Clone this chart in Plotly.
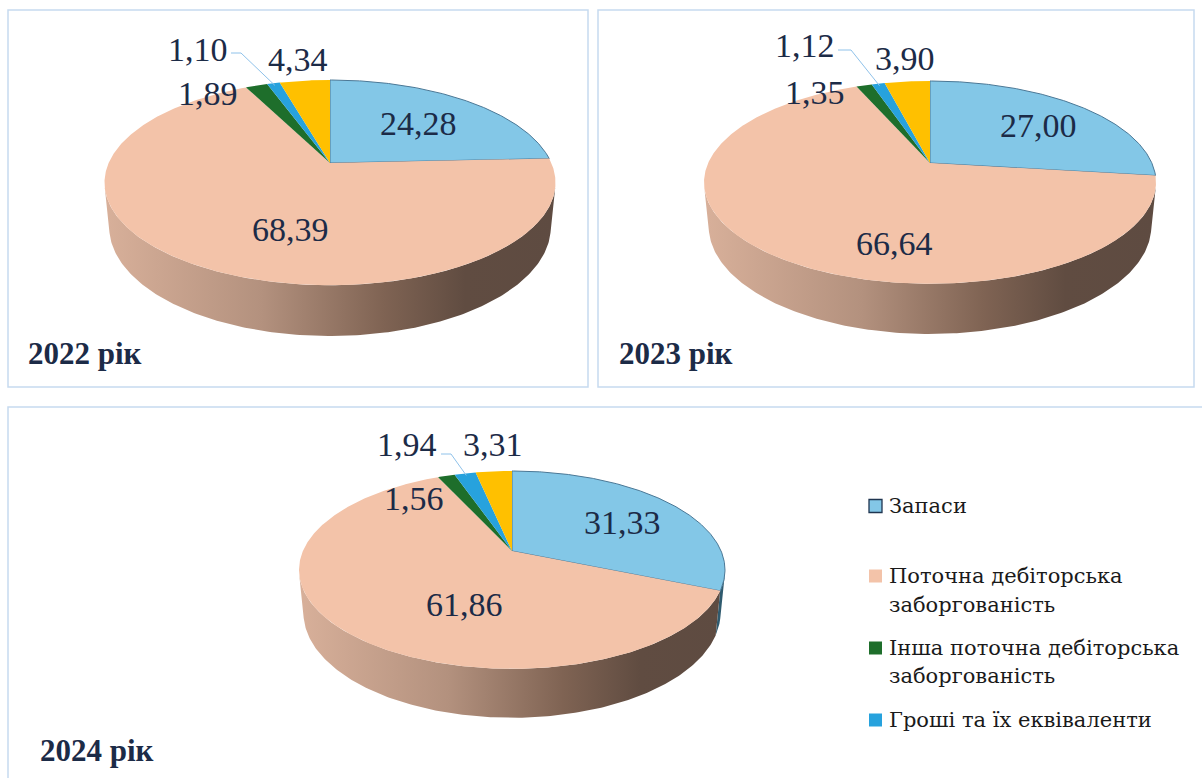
import numpy as np
import plotly.graph_objects as go

# ---------------- data ----------------
categories = ["Запаси", "Поточна дебіторська заборгованість",
              "Інша поточна дебіторська заборгованість",
              "Гроші та їх еквіваленти", "Інші оборотні активи"]
years = ["2022 рік", "2023 рік", "2024 рік"]
values_2022 = [24.28, 68.39, 1.89, 1.10, 4.34]
values_2023 = [27.00, 66.64, 1.35, 1.12, 3.90]
values_2024 = [31.33, 61.86, 1.56, 1.94, 3.31]
legend_lines = [["Запаси"],
                ["Поточна дебіторська", "заборгованість"],
                ["Інша поточна дебіторська", "заборгованість"],
                ["Гроші та їх еквіваленти"]]

# ---------------- style / layout ----------------
slice_colors = ["#83c7e7", "#f3c3a9", "#1e6e2b", "#27a2dd", "#ffc000"]
text_color = "#1c2b47"
border_color = "#c6daf0"
SERIF = "Liberation Serif"
LEG_FONT = "DejaVu Serif"
W, Hh = 1202, 778

# pie placement (pixel layout)
pies = [dict(cx=330, vy=163, hw=225.5, top=83),
        dict(cx=930, vy=163, hw=226, top=82),
        dict(cx=512, vy=551, hw=213, top=80)]
label_pos = [
    [(418, 123), (290, 229), (208, 93), (198, 49), (298, 59)],
    [(1038, 125), (894, 243), (815, 92), (805, 45), (905, 58)],
    [(622, 522), (464, 604), (414, 498), (407, 444), (493, 444)],
]
leader_start = [[(231, 53), (241, 53)], [(838, 50), (851, 50)], [(441, 454), (451, 454)]]
title_pos = [(26, 353), (617, 353), (38, 750)]
panels = [(8, 10, 588, 387), (598, 10, 1194, 387), (8, 407, 1215, 795)]

# perspective model of a tilted pie
E = np.radians(26.0)
D = 4.7
DEPTH = 0.22
S, C = np.sin(E), np.cos(E)


def project(a_deg, y3, r=1.0):
    a = np.radians(a_deg)
    X = r * np.sin(a)
    Z = -r * np.cos(a)
    depth = D - y3 * S - Z * C
    return X / depth, (y3 * C - Z * S) / depth


fig = go.Figure()
annotations = []
shapes = []

all_values = [values_2022, values_2023, values_2024]
grid = np.linspace(0, 360, 721)
rim_sx, _ = project(grid, 0.0)
max_sx = np.max(rim_sx)
a_vis = np.degrees(np.arccos(-1.0 / (D * C)))

wall_traces = []
top_traces = []
for p, vals, lpos, lstart, ttl, tpos in zip(pies, all_values, label_pos,
                                              leader_start, years, title_pos):
    kx = p["hw"] / max_sx
    ky = p["top"] / project(0.0, 0.0)[1]

    def to_px(sx, sy):
        return p["cx"] + kx * np.asarray(sx), p["vy"] - ky * np.asarray(sy)

    total = sum(vals)
    bounds = np.concatenate([[0], np.cumsum(vals)]) / total * 360.0
    left_px = p["cx"] - p["hw"]
    right_px = p["cx"] + p["hw"]

    for i, v in enumerate(vals):
        a1, a2 = bounds[i], bounds[i + 1]
        # side wall (front visible part)
        b1, b2 = max(a1, a_vis), min(a2, 360 - a_vis)
        if b2 > b1:
            aa = np.linspace(b1, b2, 200)
            tx, ty = to_px(*project(aa, 0.0))
            bx, by = to_px(*project(aa[::-1], -DEPTH))
            xs = np.concatenate([tx, bx, tx[:1]])
            ys = np.concatenate([ty, by, ty[:1]])
            if i == 1:
                fg = dict(type="horizontal", start=left_px, stop=right_px,
                          colorscale=[[0, "#d8b09a"], [0.35, "#b3917e"],
                                      [0.62, "#7f6353"], [0.8, "#604c41"],
                                      [1, "#5e4b41"]])
            else:
                fg = dict(type="horizontal", start=left_px, stop=right_px,
                          colorscale=[[0, "#4a87a3"], [1, "#2f5a6e"]])
            wall_traces.append(go.Scatter(x=xs, y=ys, mode="lines", fill="toself",
                                          fillgradient=fg, line=dict(width=0),
                                          hoverinfo="skip", showlegend=False))
        # top face
        aa = np.linspace(a1, a2, max(8, int((a2 - a1) * 2)))
        rx, ry = to_px(*project(aa, 0.0))
        xs = np.concatenate([[p["cx"]], rx, [p["cx"]]])
        ys = np.concatenate([[p["vy"]], ry, [p["vy"]]])
        line = dict(width=1, color="#4b7896") if i == 0 else dict(width=0)
        top_traces.append(go.Scatter(x=xs, y=ys, mode="lines", fill="toself",
                                     fillcolor=slice_colors[i], line=line,
                                     name=categories[i], hoverinfo="name",
                                     showlegend=False))
        # value label
        annotations.append(dict(x=lpos[i][0], y=lpos[i][1], xref="x", yref="y",
                                text=f"{v:.2f}".replace(".", ","), showarrow=False,
                                font=dict(family=SERIF, size=34, color=text_color),
                                xanchor="center", yanchor="middle"))
    # leader line to the "Гроші" slice
    mid = (bounds[3] + bounds[4]) / 2
    ex, ey = to_px(*project(mid, 0.0, 0.97))
    lx = [pt[0] for pt in lstart] + [float(ex)]
    ly = [pt[1] for pt in lstart] + [float(ey)]
    top_traces.append(go.Scatter(x=lx, y=ly, mode="lines",
                                 line=dict(color="#8fc2ea", width=1),
                                 hoverinfo="skip", showlegend=False))
    annotations.append(dict(x=tpos[0], y=tpos[1], xref="x", yref="y", text=f"<b>{ttl}</b>",
                            showarrow=False, xanchor="left", yanchor="middle",
                            font=dict(family=SERIF, size=31, color=text_color)))

for t in wall_traces + top_traces:
    fig.add_trace(t)

# panel borders
for (x0, y0, x1, y1) in panels:
    shapes.append(dict(type="rect", xref="x", yref="y", x0=x0, y0=y0, x1=x1, y1=y1,
                       line=dict(color=border_color, width=1.5), fillcolor="rgba(0,0,0,0)",
                       layer="below"))

# legend (manual)
leg_rows = [[506], [576, 605], [648, 676], [720]]
for i, (lines, rows) in enumerate(zip(legend_lines, leg_rows)):
    y0 = rows[0]
    shapes.append(dict(type="rect", xref="x", yref="y", x0=869, x1=882,
                       y0=y0 - 6.5, y1=y0 + 6.5, fillcolor=slice_colors[i],
                       line=dict(color="#1f3550", width=1.3) if i == 0 else dict(width=0)))
    for txt, yy in zip(lines, rows):
        annotations.append(dict(x=887, y=yy, xref="x", yref="y", text=txt, showarrow=False,
                                xanchor="left", yanchor="middle",
                                font=dict(family=LEG_FONT, size=21, color="#1a1a1a")))

fig.update_layout(
    width=W, height=Hh, autosize=False,
    margin=dict(l=0, r=0, t=0, b=0),
    paper_bgcolor="white", plot_bgcolor="white",
    xaxis=dict(range=[0, W], visible=False, fixedrange=True),
    yaxis=dict(range=[Hh, 0], visible=False, fixedrange=True),
    shapes=shapes, annotations=annotations, showlegend=False,
)
fig.write_html("out.html")
